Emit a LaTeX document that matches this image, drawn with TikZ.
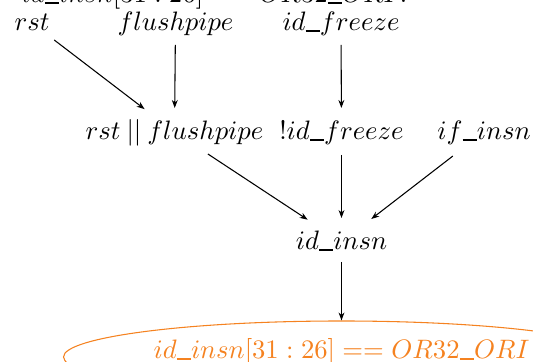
\documentclass[tikz,border=0pt]{standalone}
\usetikzlibrary{arrows.meta,shapes.geometric}
\definecolor{cond}{RGB}{245,130,32}
% one picture unit
\newcommand\pxu{0.375pt}
% short, heavy underscore for signal names
\newcommand\usc{\mathord{\rule[-0.5pt]{5.4pt}{0.75pt}}}
\begin{document}
\begin{tikzpicture}[x=\pxu,y=-\pxu,
  sig/.style={inner sep=0pt,text height=8pt,text depth=2pt},
  edge/.style={-{Stealth[length=3pt,width=2.2pt]},thin},
  condnode/.style={draw=cond,text=cond,thin,ellipse,inner sep=0pt,
    minimum width=556*\pxu,minimum height=72*\pxu,text height=5pt,text depth=3.6pt}]
\clip (0,0) rectangle (533,362);
\useasboundingbox (0,0) rectangle (533,362);

% decision label from the stage above
\node[sig] (prev) at (216,-5) {$id\usc insn[31:26] == OR32\usc ORI?$};

% input signals
\node[sig] (rst)   at (32,23)  {$rst$};
\node[sig] (fp)    at (175.5,23) {$flushpipe$};
\node[sig] (idf)   at (341,23) {$id\usc freeze$};

% combined terms
\node[sig] (rsf)   at (174.5,132) {$rst \mathbin{||} flushpipe$};
\node[sig] (nidf)  at (341.5,132) {$!id\usc freeze$};
\node[sig] (ifi)   at (484,132) {$if\usc insn$};

\node[sig] (idi)   at (341.5,242) {$id\usc insn$};

% opcode test
\node[condnode] (ori) at (341.5,357) {$id\usc insn[31:26] == OR32\usc ORI$};

\draw[edge,shorten <=28*\pxu,shorten >=37.6*\pxu] (rst.center) -- (rsf.center);
\draw[edge,shorten <=22*\pxu,shorten >=24*\pxu] (fp.center) -- (rsf.center);
\draw[edge,shorten <=22*\pxu,shorten >=24*\pxu] (idf.center) -- (nidf.center);
\draw[edge,shorten <=40*\pxu,shorten >=40.5*\pxu] (rsf.center) -- (idi.center);
\draw[edge,shorten <=23*\pxu,shorten >=24*\pxu] (nidf.center) -- (idi.center);
\draw[edge,shorten <=39.4*\pxu,shorten >=37.6*\pxu] (ifi.center) -- (idi.center);
\draw[edge,shorten <=20*\pxu] (idi.center) -- (ori);
\end{tikzpicture}
\end{document}
